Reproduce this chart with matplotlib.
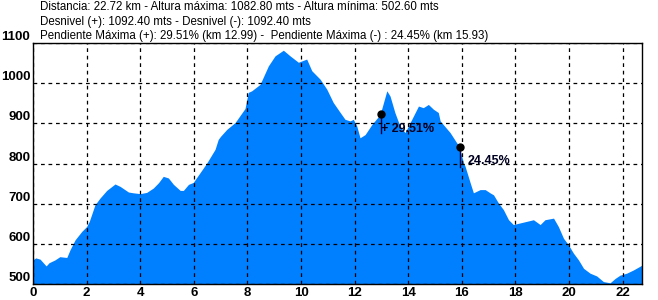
import matplotlib.pyplot as plt

# perfil de altitud (km, metros)
km = [0.0, 0.1, 0.26, 0.49, 0.6, 0.82, 1.0, 1.26, 1.38, 1.57, 1.82, 2.0, 2.1, 2.31, 2.5,
      2.75, 3.06, 3.25, 3.56, 3.74, 4.0, 4.24, 4.49, 4.68, 4.86, 5.05, 5.24, 5.49, 5.61,
      5.8, 5.98, 6.23, 6.48, 6.79, 6.91, 7.0, 7.23, 7.54, 7.91, 8.03, 8.16, 8.47, 8.78,
      9.03, 9.34, 9.59, 9.9, 10.21, 10.4, 10.71, 10.96, 11.2, 11.46, 11.64, 11.83, 11.95,
      12.08, 12.2, 12.39, 12.64, 12.95, 13.2, 13.32, 13.5, 13.69, 13.88, 14.13, 14.38,
      14.56, 14.75, 14.94, 15.12, 15.19, 15.56, 15.9, 16.06, 16.12, 16.31, 16.43, 16.68,
      16.87, 17.05, 17.18, 17.36, 17.55, 17.74, 17.92, 18.17, 18.42, 18.67, 18.92, 19.1,
      19.42, 19.6, 19.79, 19.98, 20.16, 20.35, 20.54, 20.78, 21.03, 21.28, 21.53, 21.72,
      21.9, 22.15, 22.4, 22.72]
alt = [560, 565, 562, 545, 553, 560, 568, 566, 585, 610, 631, 643, 656, 697, 714,
       733, 749, 743, 729, 727, 725, 728, 739, 752, 768, 764, 748, 733, 733,
       748, 753, 777, 801, 835, 860, 868, 885, 902, 937, 977, 981, 997, 1043,
       1068, 1082, 1068, 1052, 1060, 1031, 1010, 985, 952, 927, 910, 906, 910,
       893, 864, 872, 897, 922, 981, 968, 927, 893, 877, 910, 943,
       939, 947, 935, 927, 906, 877, 842, 802, 793, 752, 727, 735,
       735, 727, 722, 702, 685, 660, 648, 652, 656, 660, 648, 660,
       664, 643, 614, 597, 577, 560, 539, 527, 520, 506, 503, 514,
       522, 527, 535, 547]

info = ["Distancia: 22.72 km - Altura máxima: 1082.80 mts - Altura mínima: 502.60 mts",
        "Desnivel (+): 1092.40 mts - Desnivel (-): 1092.40 mts",
        "Pendiente Máxima (+): 29.51% (km 12.99) -  Pendiente Máxima (-) : 24.45% (km 15.93)"]

# pendientes maximas
pend_km = [12.99, 15.93]
pend_alt = [922, 842]
pend_fin = [877, 792]
pend_txt = ["+ 29.51%", "24.45%"]
pend_txt_km = [13.0, 16.23]
pend_txt_alt = [887, 806]

fig = plt.figure(figsize=(6.58, 3.0), dpi=100)
ax = fig.add_axes([33/658, 1-284/300, (642-33)/658, (284-43)/300])

ax.fill_between(km, alt, 500, color='#0080ff', linewidth=0)
ax.set_xlim(0, 22.72)
ax.set_ylim(500, 1100)
ax.set_xticks(range(0, 23, 2))
ax.set_yticks(range(500, 1101, 100))
ax.grid(True, color='black', linestyle=(0, (3, 3)), linewidth=0.9)
ax.set_axisbelow(False)
for s in ax.spines.values():
    s.set_color('black')
    s.set_linewidth(1)
ax.tick_params(length=0, pad=2, labelsize=9.5)
for lb in ax.get_xticklabels() + ax.get_yticklabels():
    lb.set_fontweight('bold')
    lb.set_fontfamily('Liberation Sans')
for lb in ax.get_yticklabels():
    lb.set_verticalalignment('bottom')

for i in range(len(pend_km)):
    ax.plot([pend_km[i], pend_km[i]], [pend_alt[i], pend_fin[i]], color='#000040', lw=1)
    ax.plot(pend_km[i], pend_alt[i], 'o', color='black', ms=5)
    ax.text(pend_txt_km[i], pend_txt_alt[i], pend_txt[i], fontsize=9, fontweight='bold',
            color='#000020', va='center', ha='left', family='Liberation Sans')

for i, t in enumerate(info):
    fig.text(40/658, 1 - (7 + 14.5*i)/300, t, fontsize=8.3, va='center', ha='left',
             family='Liberation Sans')

fig.savefig('out.png', dpi=100)
